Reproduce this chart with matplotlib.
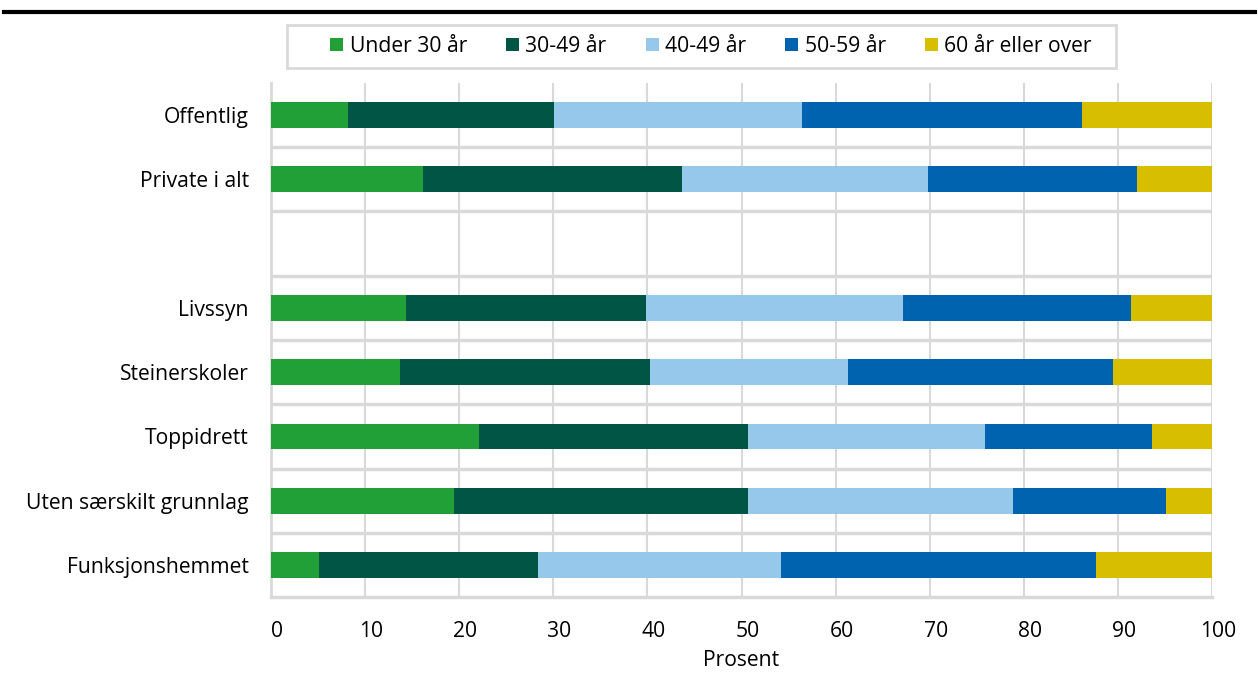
import matplotlib
matplotlib.use("Agg")
import matplotlib.pyplot as plt
from matplotlib.lines import Line2D
from matplotlib.patches import Rectangle
from matplotlib.transforms import ScaledTranslation
import numpy as np

plt.rcParams['font.family'] = ['Open Sans', 'DejaVu Sans']

categories = ["Offentlig", "Private i alt", "", "Livssyn", "Steinerskoler",
              "Toppidrett", "Uten særskilt grunnlag", "Funksjonshemmet"]
series_names = ["Under 30 år", "30-49 år", "40-49 år", "50-59 år", "60 år eller over"]
under30 = [8.2, 16.2, np.nan, 14.3, 13.7, 22.1, 19.5, 5.1]
a30_49 = [21.9, 27.5, np.nan, 25.6, 26.6, 28.6, 31.2, 23.3]
a40_49 = [26.3, 26.1, np.nan, 27.3, 21.0, 25.2, 28.1, 25.8]
a50_59 = [29.8, 22.2, np.nan, 24.2, 28.2, 17.7, 16.3, 33.5]
a60plus = [13.8, 8.0, np.nan, 8.6, 10.5, 6.4, 4.9, 12.3]
colors = ["#21a038", "#005545", "#96c8ec", "#0063af", "#d7bf00"]
xticks = [0, 10, 20, 30, 40, 50, 60, 70, 80, 90, 100]

FS = 15.2

fig = plt.figure(figsize=(12.58, 6.79), dpi=100)
ax = fig.add_axes([271/1258, 1-597.1/679, (1212-271)/1258, (597.1-82.9)/679])

y = np.arange(len(categories))
left = np.zeros(len(categories))
for vals, name, c in zip([under30, a30_49, a40_49, a50_59, a60plus], series_names, colors):
    v = np.array(vals, dtype=float)
    v0 = np.nan_to_num(v)
    ax.barh(y, v0, left=left, height=0.4, color=c, label=name, linewidth=0, zorder=3)
    left = left + v0

ax.set_ylim(len(categories) - 0.5, -0.5)
ax.set_xlim(0, 100)
ax.set_yticks(y)
ax.set_yticklabels(categories, fontsize=FS, color="#000000")
ax.set_xticks(xticks)
ax.set_xticklabels([str(t) for t in xticks], fontsize=FS)
ax.tick_params(axis='both', length=0)
ax.tick_params(axis='x', pad=17)
ax.tick_params(axis='y', pad=16)
ax.set_xlabel("Prosent", fontsize=FS, labelpad=6)

offset = ScaledTranslation(6/100, 0, fig.dpi_scale_trans)
for lab in ax.get_xticklabels():
    lab.set_transform(lab.get_transform() + offset)

for s in ["top", "right"]:
    ax.spines[s].set_visible(False)
ax.spines["left"].set_color("#d9d9d9")
ax.spines["left"].set_linewidth(2)
ax.spines["bottom"].set_color("#d9d9d9")
ax.spines["bottom"].set_linewidth(2.5)

for xv in xticks[1:]:
    ax.axvline(xv, color="#d9d9d9", linewidth=1.5, zorder=1)
for b in np.arange(0.5, len(categories) - 0.5, 1.0):
    ax.axhline(b, color="#d9d9d9", linewidth=2.5, zorder=1)

# legend frame (wider than its content, as in the original)
fig.add_artist(Rectangle((287/1258, 1-68/679), (1116-287)/1258, 43/679,
                         transform=fig.transFigure, facecolor="white",
                         edgecolor="#d9d9d9", linewidth=2, zorder=0))

handles, labels = ax.get_legend_handles_labels()
leg = fig.legend(handles, labels, loc="center", bbox_to_anchor=(711/1258, 1-46.5/679),
                 ncol=5, fontsize=FS, frameon=False,
                 handlelength=0.62, handleheight=0.62, handletextpad=0.3,
                 columnspacing=1.85, borderpad=0.3, borderaxespad=0)

fig.add_artist(Line2D([0.003, 0.998], [1-12/679, 1-12/679], color="black",
                      linewidth=3, transform=fig.transFigure))

fig.savefig("out.png", dpi=100)
